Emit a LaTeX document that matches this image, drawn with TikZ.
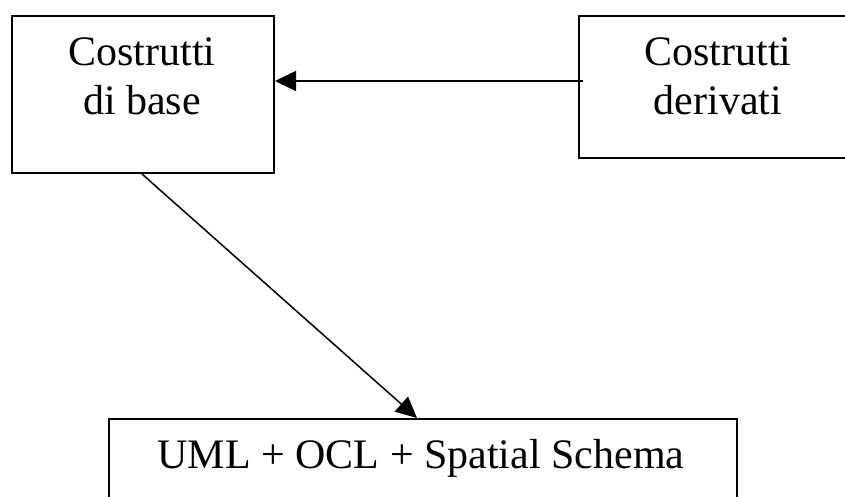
\documentclass[tikz,border=0pt]{standalone}
\usepackage{fontspec}
\setmainfont{Liberation Serif}
\usetikzlibrary{arrows.meta}
\begin{document}
\begin{tikzpicture}[x=1pt,y=-1pt,
  box/.style={draw=black, line width=2pt, rectangle, inner sep=0pt, anchor=north west},
  txt/.style={inner sep=0pt, anchor=base, font=\fontsize{42}{49}\selectfont},
  link/.style={line width=1.5pt, -{Triangle[length=21pt,width=20pt]}}]
  \useasboundingbox (0,0) rectangle (845,496);
  \clip (0,0) rectangle (845,496);
  \fill[white] (0,0) rectangle (845,496);

  % boxes
  \node[box, minimum width=262pt, minimum height=157pt] (base) at (11,15) {};
  \node[box, minimum width=280pt, minimum height=142pt] (deriv) at (578,15) {};
  \node[box, minimum width=628pt, minimum height=100pt] (uml) at (108,418) {};

  % labels
  \node[txt] (baseA) at (142,65) {Costrutti};
  \node[txt] (baseB) at (142,114) {di base};
  \node[txt] (derivA) at (718,65) {Costrutti};
  \node[txt] (derivB) at (718,114) {derivati};
  \node[txt] (umlT) at (421,468) {UML + OCL + Spatial Schema};

  % connectors
  \coordinate (hstart) at ([xshift=5pt]deriv.west |- 0,81);
  \coordinate (dstart) at ([xshift=131pt]base.south west);
  \coordinate (dend) at ([xshift=309pt]uml.north west);
  \draw[link] (hstart) -- (base.east |- hstart);
  \draw[link] (dstart) -- (dend);
\end{tikzpicture}
\end{document}
